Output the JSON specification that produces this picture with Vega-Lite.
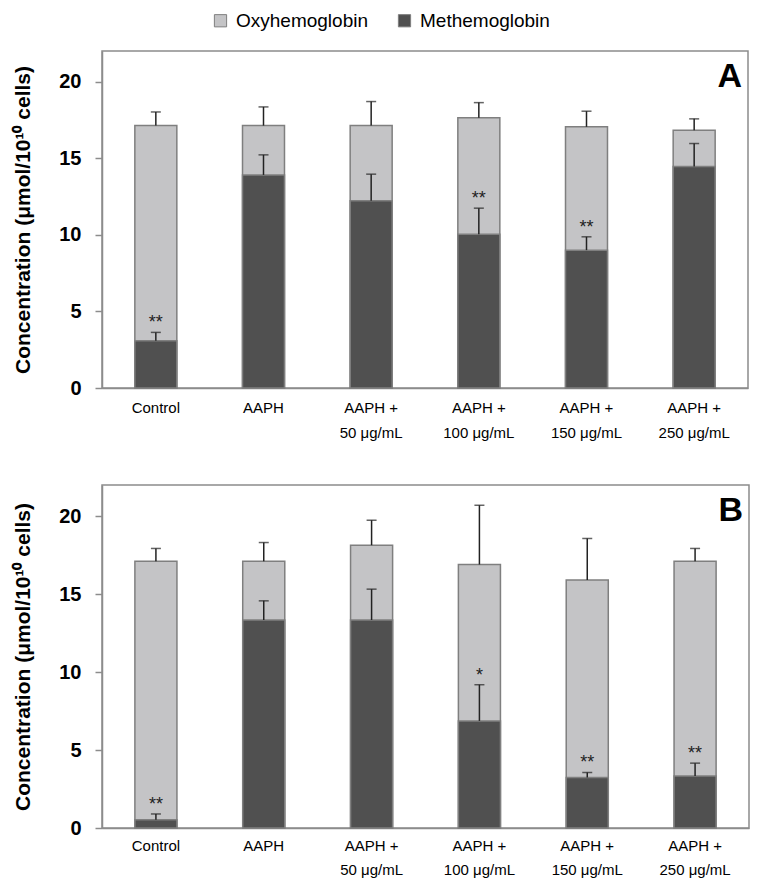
{
  "$schema": "https://vega.github.io/schema/vega-lite/v6.json",
  "background": "white",
  "padding": {"left": 12, "top": 11, "right": 5, "bottom": 5},
  "data": {"values": [
    {"panel": "A", "group": "Control", "met": 3.09, "metHi": 3.63, "total": 17.13, "totalHi": 18.02, "sig": "**"},
    {"panel": "A", "group": "AAPH", "met": 13.91, "metHi": 15.22, "total": 17.13, "totalHi": 18.35, "sig": ""},
    {"panel": "A", "group": "AAPH + 50 μg/mL", "met": 12.22, "metHi": 13.96, "total": 17.13, "totalHi": 18.7, "sig": ""},
    {"panel": "A", "group": "AAPH + 100 μg/mL", "met": 10.04, "metHi": 11.74, "total": 17.65, "totalHi": 18.63, "sig": "**"},
    {"panel": "A", "group": "AAPH + 150 μg/mL", "met": 9.0, "metHi": 9.87, "total": 17.05, "totalHi": 18.07, "sig": "**"},
    {"panel": "A", "group": "AAPH + 250 μg/mL", "met": 14.46, "metHi": 15.96, "total": 16.83, "totalHi": 17.57, "sig": ""},
    {"panel": "B", "group": "Control", "met": 0.53, "metHi": 0.9, "total": 17.11, "totalHi": 17.93, "sig": "**"},
    {"panel": "B", "group": "AAPH", "met": 13.34, "metHi": 14.57, "total": 17.11, "totalHi": 18.31, "sig": ""},
    {"panel": "B", "group": "AAPH + 50 μg/mL", "met": 13.34, "metHi": 15.32, "total": 18.14, "totalHi": 19.74, "sig": ""},
    {"panel": "B", "group": "AAPH + 100 μg/mL", "met": 6.87, "metHi": 9.19, "total": 16.9, "totalHi": 20.7, "sig": "*"},
    {"panel": "B", "group": "AAPH + 150 μg/mL", "met": 3.24, "metHi": 3.56, "total": 15.9, "totalHi": 18.57, "sig": "**"},
    {"panel": "B", "group": "AAPH + 250 μg/mL", "met": 3.33, "metHi": 4.16, "total": 17.11, "totalHi": 17.93, "sig": "**"}
  ]},
  "config": {
    "view": {"stroke": "#8c8c8c", "strokeWidth": 1.5},
    "font": "Liberation Sans",
    "legend": {"layout": {"top": {"anchor": "middle"}}}
  },
  "spacing": 43,
  "resolve": {"scale": {"color": "shared"}},
  "vconcat": [
    {
      "title": {"text": "A", "anchor": "end", "fontSize": 34, "fontWeight": "bold", "offset": -43, "dx": -6, "color": "black", "font": "Liberation Sans"},
      "width": 646, "height": 337,
      "transform": [{"filter": "datum.panel == 'A'"}],
      "encoding": {
        "x": {"field": "group", "type": "nominal", "sort": null,
          "scale": {"paddingInner": 0.61, "paddingOuter": 0.305},
          "axis": {"title": null, "labelAngle": 0, "ticks": false, "domainColor": "#8c8c8c", "domainWidth": 1.5, "labelPadding": 12, "labelFontSize": 15, "labelColor": "black", "labelLineHeight": 25,
            "labelExpr": "indexof(datum.label, '+') > 0 ? ['AAPH +', replace(datum.label, 'AAPH + ', '')] : datum.label"}}
      },
      "layer": [
        {"mark": {"type": "bar", "stroke": "#7f7f7f", "strokeWidth": 1.5},
          "encoding": {
            "y": {"field": "total", "type": "quantitative", "scale": {"domain": [0, 22]},
              "axis": {"title": "Concentration (μmol/10¹⁰ cells)", "values": [0, 5, 10, 15, 20], "grid": false, "domainColor": "#8c8c8c", "domainWidth": 1.5, "tickColor": "#8c8c8c", "tickSize": 7, "tickWidth": 1.5, "labelPadding": 14, "labelFontSize": 20, "labelFontWeight": "bold", "labelColor": "black", "titleFontSize": 21, "titleFontWeight": "bold", "titleColor": "black", "titlePadding": 25}},
            "color": {"datum": "Oxyhemoglobin", "type": "nominal",
              "scale": {"domain": ["Oxyhemoglobin", "Methemoglobin"], "range": ["#c4c4c6", "#505050"]},
              "legend": {"orient": "top", "title": null, "direction": "horizontal", "symbolType": "square", "symbolSize": 150, "symbolStrokeColor": "#7f7f7f", "symbolStrokeWidth": 1, "symbolOpacity": 1, "labelFontSize": 19, "labelColor": "black", "labelOffset": 6, "columnPadding": 26, "offset": 19}}
          }},
        {"mark": {"type": "bar", "stroke": "#7f7f7f", "strokeWidth": 1.5},
          "encoding": {
            "y": {"field": "met", "type": "quantitative"},
            "color": {"datum": "Methemoglobin", "type": "nominal"}
          }},
        {"mark": {"type": "rule", "color": "#222", "strokeWidth": 1.5},
          "encoding": {"y": {"field": "met", "type": "quantitative"}, "y2": {"field": "metHi"}}},
        {"mark": {"type": "tick", "color": "#222", "thickness": 1.5, "size": 10},
          "encoding": {"y": {"field": "metHi", "type": "quantitative"}}},
        {"mark": {"type": "rule", "color": "#222", "strokeWidth": 1.5},
          "encoding": {"y": {"field": "total", "type": "quantitative"}, "y2": {"field": "totalHi"}}},
        {"mark": {"type": "tick", "color": "#222", "thickness": 1.5, "size": 10},
          "encoding": {"y": {"field": "totalHi", "type": "quantitative"}}},
        {"transform": [{"filter": "datum.sig != ''"}],
          "mark": {"type": "text", "dy": -9, "baseline": "middle", "fontSize": 18, "color": "#222"},
          "encoding": {"y": {"field": "metHi", "type": "quantitative"}, "text": {"field": "sig"}}}
      ]
    },
    {
      "title": {"text": "B", "anchor": "end", "fontSize": 34, "fontWeight": "bold", "offset": -43, "dx": -6, "color": "black", "font": "Liberation Sans"},
      "width": 647, "height": 343,
      "transform": [{"filter": "datum.panel == 'B'"}],
      "encoding": {
        "x": {"field": "group", "type": "nominal", "sort": null,
          "scale": {"paddingInner": 0.61, "paddingOuter": 0.305},
          "axis": {"title": null, "labelAngle": 0, "ticks": false, "domainColor": "#8c8c8c", "domainWidth": 1.5, "labelPadding": 10, "labelFontSize": 15, "labelColor": "black", "labelLineHeight": 24,
            "labelExpr": "indexof(datum.label, '+') > 0 ? ['AAPH +', replace(datum.label, 'AAPH + ', '')] : datum.label"}}
      },
      "layer": [
        {"mark": {"type": "bar", "stroke": "#7f7f7f", "strokeWidth": 1.5},
          "encoding": {
            "y": {"field": "total", "type": "quantitative", "scale": {"domain": [0, 22]},
              "axis": {"title": "Concentration (μmol/10¹⁰ cells)", "values": [0, 5, 10, 15, 20], "grid": false, "domainColor": "#8c8c8c", "domainWidth": 1.5, "tickColor": "#8c8c8c", "tickSize": 7, "tickWidth": 1.5, "labelPadding": 14, "labelFontSize": 20, "labelFontWeight": "bold", "labelColor": "black", "titleFontSize": 21, "titleFontWeight": "bold", "titleColor": "black", "titlePadding": 25}},
            "color": {"datum": "Oxyhemoglobin", "type": "nominal"}
          }},
        {"mark": {"type": "bar", "stroke": "#7f7f7f", "strokeWidth": 1.5},
          "encoding": {
            "y": {"field": "met", "type": "quantitative"},
            "color": {"datum": "Methemoglobin", "type": "nominal"}
          }},
        {"mark": {"type": "rule", "color": "#222", "strokeWidth": 1.5},
          "encoding": {"y": {"field": "met", "type": "quantitative"}, "y2": {"field": "metHi"}}},
        {"mark": {"type": "tick", "color": "#222", "thickness": 1.5, "size": 10},
          "encoding": {"y": {"field": "metHi", "type": "quantitative"}}},
        {"mark": {"type": "rule", "color": "#222", "strokeWidth": 1.5},
          "encoding": {"y": {"field": "total", "type": "quantitative"}, "y2": {"field": "totalHi"}}},
        {"mark": {"type": "tick", "color": "#222", "thickness": 1.5, "size": 10},
          "encoding": {"y": {"field": "totalHi", "type": "quantitative"}}},
        {"transform": [{"filter": "datum.sig != ''"}],
          "mark": {"type": "text", "dy": -9, "baseline": "middle", "fontSize": 18, "color": "#222"},
          "encoding": {"y": {"field": "metHi", "type": "quantitative"}, "text": {"field": "sig"}}}
      ]
    }
  ]
}
